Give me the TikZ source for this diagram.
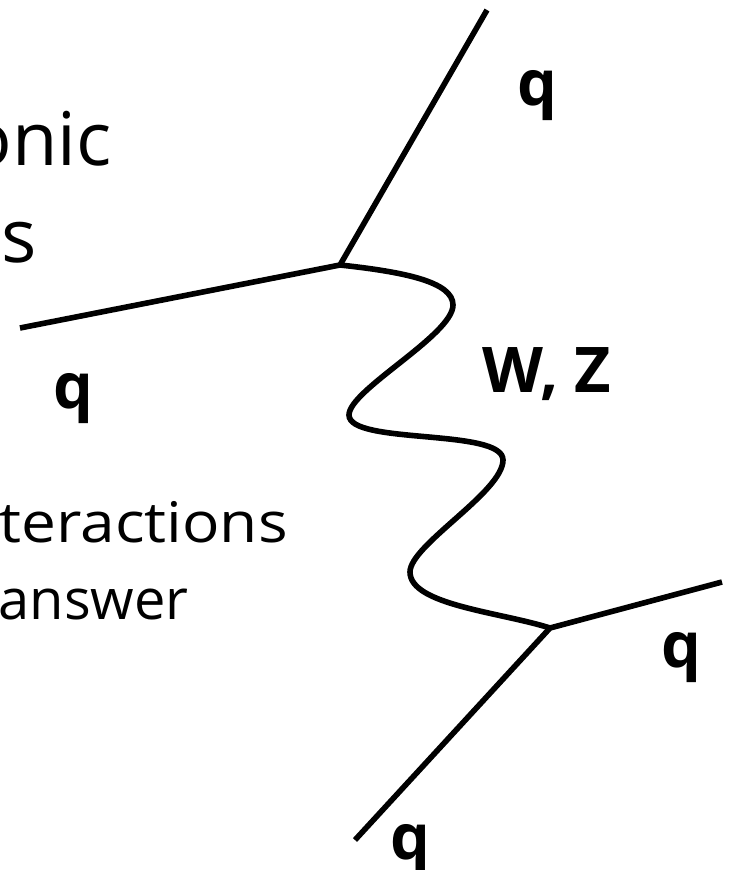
\documentclass[tikz,border=0pt]{standalone}
\usepackage{fontspec}
\setmainfont{Open Sans}
\begin{document}
\begin{tikzpicture}[x=1pt,y=-1pt,
  ln/.style={line width=5.6pt},
  lbl/.style={inner sep=0pt,font=\fontsize{63}{63}\selectfont\bfseries},
  big/.style={inner sep=0pt,anchor=base east,font=\fontsize{74}{74}\selectfont},
  small/.style={inner sep=0pt,anchor=base east,font=\fontsize{56}{56}\selectfont}]
\useasboundingbox (0,0) rectangle (730,870);
\clip (0,0) rectangle (730,870);
% text (cut off on left)
\node[big] (t1) at (112,165) {onic};
\node[big] (t2) at (37,262) {s};
\node[small,xscale=1.11,transform shape] (t3) at (288,542) {teractions};
\node[small] (t4) at (189,619) {answer};
% vertices and ends
\coordinate (v1) at (340,265);
\coordinate (v2) at (550,628);
\coordinate (e1) at (487,10);
\coordinate (e2) at (20,328);
\coordinate (e3) at (722,582);
\coordinate (e4) at (355,840);
\draw[ln] (e2) -- (v1) -- (e1);
\draw[ln] (e4) -- (v2) -- (e3);
\draw[ln] (v1) .. controls (405,272) and (453,282) .. (453,305)
  .. controls (453,335) and (349,390) .. (349,415)
  .. controls (349,445) and (503,428) .. (503,460)
  .. controls (503,492) and (410,545) .. (410,572)
  .. controls (410,605) and (500,612) .. (v2);
% labels
\node[lbl,anchor=base] (q1) at (537,105) {q};
\node[lbl,anchor=base] (q2) at (73,408) {q};
\node[lbl,anchor=base west] (wz) at (482,392) {W, Z};
\node[lbl,anchor=base] (q3) at (681,667) {q};
\node[lbl,anchor=base] (q4) at (410,859) {q};
\end{tikzpicture}
\end{document}
